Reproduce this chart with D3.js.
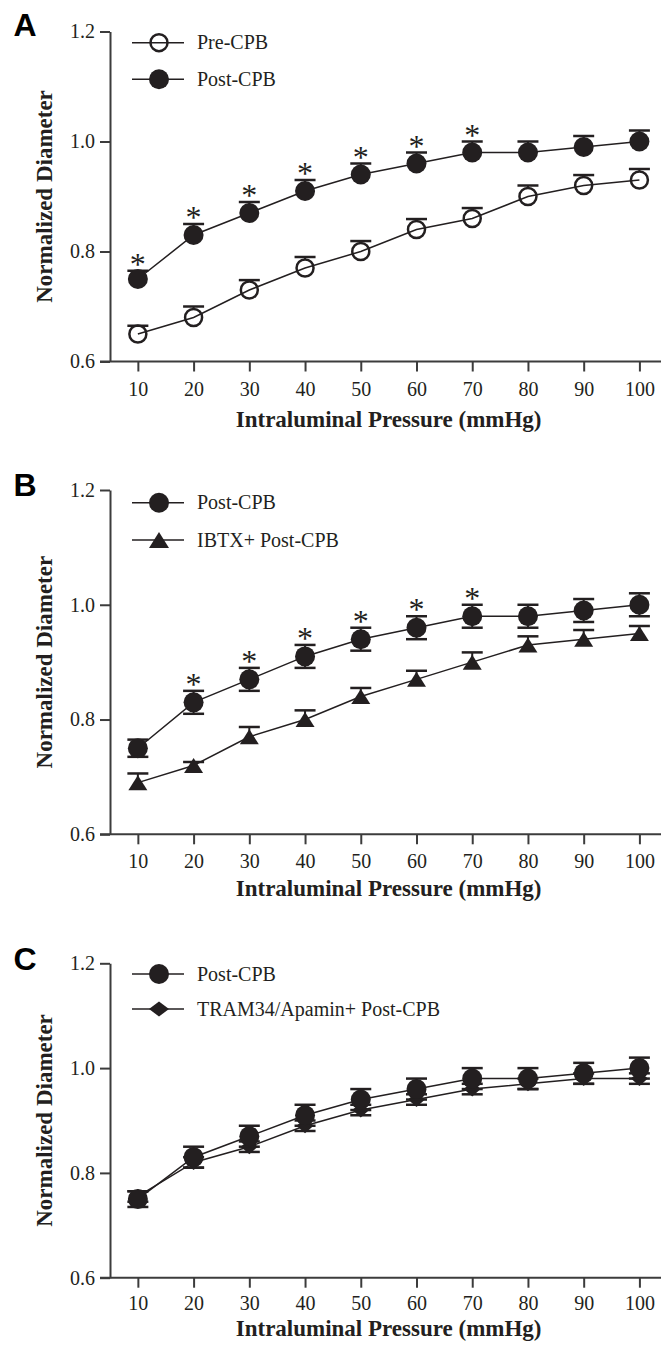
<!DOCTYPE html>
<html>
<head>
<meta charset="utf-8">
<script src="https://cdn.jsdelivr.net/npm/d3@7/dist/d3.min.js"></script>
<style>
  html, body { margin: 0; padding: 0; background: #fff; }
  svg { display: block; }
</style>
</head>
<body>
<script>
// ---------------- data ----------------
const pressure = [10, 20, 30, 40, 50, 60, 70, 80, 90, 100];
const preCPB = [0.65, 0.68, 0.73, 0.77, 0.80, 0.84, 0.86, 0.90, 0.92, 0.93];
const preCPBErr = [0.015, 0.02, 0.018, 0.02, 0.019, 0.019, 0.019, 0.02, 0.019, 0.02];
const postCPB = [0.75, 0.83, 0.87, 0.91, 0.94, 0.96, 0.98, 0.98, 0.99, 1.00];
const postCPBErr = [0.015, 0.02, 0.02, 0.02, 0.02, 0.02, 0.02, 0.02, 0.02, 0.02];
const ibtxPostCPB = [0.69, 0.72, 0.77, 0.80, 0.84, 0.87, 0.90, 0.93, 0.94, 0.95];
const ibtxErr = [0.016, 0.006, 0.017, 0.016, 0.015, 0.015, 0.017, 0.015, 0.016, 0.013];
const tramPostCPB = [0.755, 0.82, 0.85, 0.89, 0.92, 0.94, 0.96, 0.97, 0.98, 0.98];
const tramErr = [0.01, 0.01, 0.01, 0.01, 0.01, 0.01, 0.01, 0.01, 0.01, 0.01];
const sigPressureA = [10, 20, 30, 40, 50, 60, 70];
const sigPressureB = [20, 30, 40, 50, 60, 70];
const yTickValues = [0.6, 0.8, 1.0, 1.2];
const xTickValues = [10, 20, 30, 40, 50, 60, 70, 80, 90, 100];
const panelLetters = ["A", "B", "C"];
const yAxisTitle = "Normalized Diameter";
const xAxisTitle = "Intraluminal Pressure (mmHg)";
const legendA = ["Pre-CPB", "Post-CPB"];
const legendB = ["Post-CPB", "IBTX+ Post-CPB"];
const legendC = ["Post-CPB", "TRAM34/Apamin+ Post-CPB"];

// ---------------- layout ----------------
const W = 661, H = 1347;
const INK = "#231f20";
const AXIS = "#3c3c3c";
const SERIF = "'Liberation Serif', 'Times New Roman', serif";
const SANS = "'Liberation Sans', Arial, sans-serif";

const svg = d3.select("body").append("svg").attr("width", W).attr("height", H);

function markerPath(shape) {
  if (shape === "circle") return d3.symbol(d3.symbolCircle, Math.PI * 100)();
  if (shape === "open") return d3.symbol(d3.symbolCircle, Math.PI * 8.5 * 8.5)();
  if (shape === "triangle") { const w = 19, h = 15; return `M0,${-h/2}L${w/2},${h/2}L${-w/2},${h/2}Z`; }
  if (shape === "diamond") { const w = 17, h = 15; return `M0,${-h/2}L${w/2},0L0,${h/2}L${-w/2},0Z`; }
}
function styleMarker(sel, shape) {
  if (shape === "open") sel.attr("fill", "none").attr("stroke", INK).attr("stroke-width", 2.5);
  else sel.attr("fill", INK).attr("stroke", "none");
}

const panels = [
  { letter: panelLetters[0], top: 31.5, bottom: 361.5, letterY: 36, tickPad: 10, titleOff: 65,
    legend: legendA, legendRows: [42.7, 79.3], shapes: ["open", "circle"],
    series: [
      { values: preCPB, err: preCPBErr, shape: "open", up: true, down: false },
      { values: postCPB, err: postCPBErr, shape: "circle", up: true, down: false }
    ],
    sigSeries: 1, sig: sigPressureA },
  { letter: panelLetters[1], top: 490, bottom: 834.3, letterY: 496, tickPad: 10, titleOff: 62,
    legend: legendB, legendRows: [502.7, 540], shapes: ["circle", "triangle"],
    series: [
      { values: ibtxPostCPB, err: ibtxErr, shape: "triangle", up: true, down: false },
      { values: postCPB, err: postCPBErr, shape: "circle", up: true, down: true }
    ],
    sigSeries: 1, sig: sigPressureB },
  { letter: panelLetters[2], top: 963.3, bottom: 1277.7, letterY: 970, tickPad: 8, titleOff: 58,
    legend: legendC, legendRows: [974, 1009], shapes: ["circle", "diamond"],
    series: [
      { values: tramPostCPB, err: tramErr, shape: "diamond", up: true, down: true },
      { values: postCPB, err: postCPBErr, shape: "circle", up: true, down: true }
    ],
    sigSeries: null, sig: [] }
];

const x = d3.scaleLinear().domain([5, 104]).range([110, 661.7]);

panels.forEach(p => {
  const g = svg.append("g");
  const y = d3.scaleLinear().domain([0.6, 1.2]).range([p.bottom, p.top]);

  // axes
  const yAxis = g.append("g").attr("transform", "translate(110,0)")
    .call(d3.axisLeft(y).tickValues(yTickValues).tickFormat(d3.format(".1f")).tickSize(10).tickSizeOuter(0).tickPadding(5));
  const xAxis = g.append("g").attr("transform", `translate(0,${p.bottom})`)
    .call(d3.axisBottom(x).tickValues(xTickValues).tickFormat(d3.format("d")).tickSize(10).tickSizeOuter(0).tickPadding(p.tickPad));
  [yAxis, xAxis].forEach(a => {
    a.select(".domain").attr("stroke", AXIS).attr("stroke-width", 2);
    a.selectAll(".tick line").attr("stroke", AXIS).attr("stroke-width", 2);
    a.selectAll(".tick text").attr("fill", INK).style("font-family", SERIF).style("font-size", "20px");
  });
  // extend x-axis domain to join y axis corner
  xAxis.select(".domain").attr("d", `M${x(5) - 10},0H${x(104)}`);

  // axis titles
  g.append("text").attr("transform", `translate(52,${(p.top + p.bottom) / 2}) rotate(-90)`)
    .attr("text-anchor", "middle").attr("fill", INK)
    .style("font-family", SERIF).style("font-weight", "bold").style("font-size", "23px")
    .text(yAxisTitle);
  g.append("text").attr("x", x(55)).attr("y", p.bottom + p.titleOff)
    .attr("text-anchor", "middle").attr("fill", INK)
    .style("font-family", SERIF).style("font-weight", "bold").style("font-size", "23px")
    .text(xAxisTitle);

  // panel letter
  g.append("text").attr("x", 25).attr("y", p.letterY).attr("text-anchor", "middle")
    .attr("fill", "#000").style("font-family", SANS).style("font-weight", "bold").style("font-size", "32px")
    .text(p.letter);

  // legend
  p.legend.forEach((label, i) => {
    const ly = p.legendRows[i];
    g.append("line").attr("x1", 132).attr("x2", 184).attr("y1", ly).attr("y2", ly)
      .attr("stroke", INK).attr("stroke-width", 1.5);
    const shp = p.shapes[i];
    let path = markerPath(shp);
    if (shp === "triangle") path = `M0,-8L10,8L-10,8Z`;
    if (shp === "diamond") path = `M0,-7.5L10,0L0,7.5L-10,0Z`;
    g.append("path").attr("d", path).attr("transform", `translate(159,${ly})`).call(styleMarker, shp);
    g.append("text").attr("x", 197).attr("y", ly + 6.5).attr("fill", INK)
      .style("font-family", SERIF).style("font-size", "20px").text(label);
  });

  // series
  p.series.forEach(s => {
    const pts = pressure.map((px, i) => ({ px, v: s.values[i], e: s.err[i] }));
    const line = d3.line().x(d => x(d.px)).y(d => y(d.v));
    g.append("path").datum(pts).attr("d", line).attr("fill", "none")
      .attr("stroke", INK).attr("stroke-width", 1.5);
    // error bars
    const eb = g.append("g");
    pts.forEach(d => {
      const cx = x(d.px);
      const start = s.shape === "open" ? y(d.v) - 8.5 : y(d.v);
      if (s.up) {
        eb.append("line").attr("x1", cx).attr("x2", cx).attr("y1", start).attr("y2", y(d.v + d.e))
          .attr("stroke", INK).attr("stroke-width", 2);
        eb.append("line").attr("x1", cx - 10.5).attr("x2", cx + 10.5).attr("y1", y(d.v + d.e)).attr("y2", y(d.v + d.e))
          .attr("stroke", INK).attr("stroke-width", 2.5);
      }
      if (s.down) {
        eb.append("line").attr("x1", cx).attr("x2", cx).attr("y1", y(d.v)).attr("y2", y(d.v - d.e))
          .attr("stroke", INK).attr("stroke-width", 2);
        eb.append("line").attr("x1", cx - 10.5).attr("x2", cx + 10.5).attr("y1", y(d.v - d.e)).attr("y2", y(d.v - d.e))
          .attr("stroke", INK).attr("stroke-width", 2.5);
      }
    });
    g.append("g").selectAll("path").data(pts).join("path")
      .attr("d", markerPath(s.shape))
      .attr("transform", d => `translate(${x(d.px)},${y(d.v)})`)
      .call(styleMarker, s.shape);
  });

  // significance asterisks
  if (p.sigSeries !== null) {
    const s = p.series[p.sigSeries];
    p.sig.forEach(px => {
      const i = pressure.indexOf(px);
      const capY = y(s.values[i] + s.err[i]);
      g.append("text").attr("x", x(px)).attr("y", capY - 13 + 17)
        .attr("text-anchor", "middle").attr("fill", INK)
        .style("font-family", SERIF).style("font-size", "32px").text("*");
    });
  }
});
</script>
</body>
</html>
